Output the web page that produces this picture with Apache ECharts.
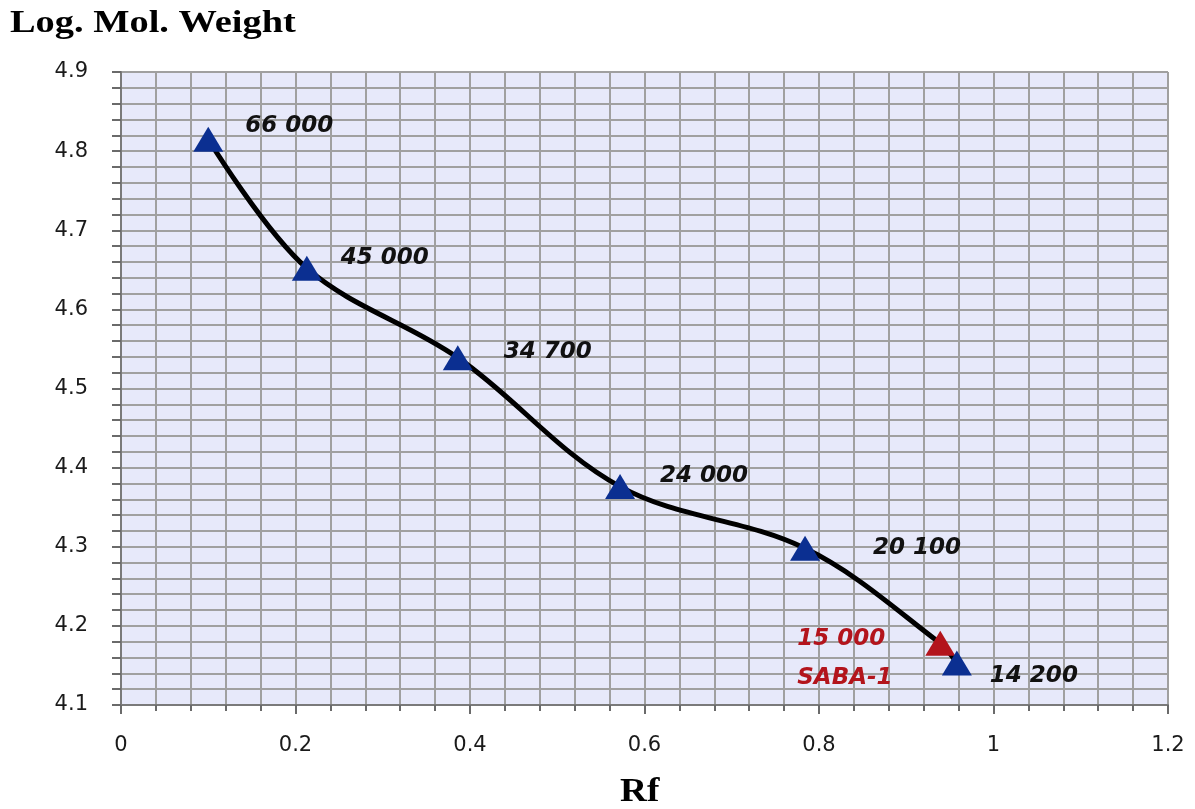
<!DOCTYPE html>
<html>
<head>
<meta charset="utf-8">
<title>Log. Mol. Weight vs Rf</title>
<script src="https://cdn.jsdelivr.net/npm/echarts@6/dist/echarts.min.js"></script>
<style>
  html, body { margin: 0; padding: 0; background: #ffffff; }
  #chart { width: 1195px; height: 809px; }
</style>
</head>
<body>
<div id="chart"></div>
<script>
// Marker proteins: relative mobility (Rf) against log of molecular weight
const rfValues    = [0.100, 0.213, 0.386, 0.572, 0.784, 0.939, 0.958];
const logMW       = [4.815, 4.652, 4.539, 4.376, 4.298, 4.178, 4.153];
const mwLabels    = ['66 000', '45 000', '34 700', '24 000', '20 100', '15 000\nSABA-1', '14 200'];
const isSample    = [false, false, false, false, false, true, false];

const xTicks = { min: 0, max: 1.2, step: 0.2 };
const yTicks = { min: 4.1, max: 4.9, step: 0.1 };

// label placement relative to each marker
const labelOffsets = [[17, -13], [14, -10], [26, -6], [20, -11], [48, 0], [-163, 15], [13, 13]];

const BLUE = '#0b2f91';
const RED = '#b3141c';
const GRID = '#a0a0a0';

const points = rfValues.map((rf, i) => ({
  value: [rf, logMW[i]],
  itemStyle: { color: isSample[i] ? RED : BLUE },
  label: {
    show: true,
    position: 'right',
    distance: 5,
    offset: labelOffsets[i],
    formatter: mwLabels[i],
    color: isSample[i] ? RED : '#111111',
    lineHeight: 39,
    align: 'left'
  }
}));

const chart = echarts.init(document.getElementById('chart'), null, { renderer: 'canvas' });

chart.setOption({
  backgroundColor: '#ffffff',
  animation: false,
  grid: { left: 121, right: 27, top: 72, bottom: 104, backgroundColor: '#e7e9fa', show: true, borderWidth: 0 },
  graphic: [
    { type: 'text', x: 10, y: 8, scaleX: 1.2,
      style: { text: 'Log. Mol. Weight', font: 'bold 32px "Liberation Serif"', fill: '#000' } },
    { type: 'text', x: 620, y: 775, scaleX: 1.1,
      style: { text: 'Rf', font: 'bold 34px "Liberation Serif"', fill: '#000' } }
  ],
  xAxis: {
    type: 'value',
    min: xTicks.min, max: xTicks.max, interval: xTicks.step,
    axisLine: { show: true, onZero: false, lineStyle: { color: '#7a7a7a', width: 2 } },
    axisTick: { show: true, length: 9, lineStyle: { color: '#6a6a6a', width: 2 } },
    minorTick: { show: true, splitNumber: 5, length: 6, lineStyle: { color: '#6a6a6a', width: 2 } },
    splitLine: { show: true, lineStyle: { color: GRID, width: 2 } },
    minorSplitLine: { show: true, lineStyle: { color: GRID, width: 2 } },
    axisLabel: { margin: 30, fontFamily: 'DejaVu Sans', fontSize: 21, color: '#1a1a1a',
      formatter: v => String(Math.round(v * 10) / 10) }
  },
  yAxis: {
    type: 'value',
    min: yTicks.min, max: yTicks.max, interval: yTicks.step,
    axisLine: { show: true, onZero: false, lineStyle: { color: '#7a7a7a', width: 2 } },
    axisTick: { show: true, length: 9, lineStyle: { color: '#6a6a6a', width: 2 } },
    minorTick: { show: true, splitNumber: 5, length: 9, lineStyle: { color: '#6a6a6a', width: 2 } },
    splitLine: { show: true, lineStyle: { color: GRID, width: 2 } },
    minorSplitLine: { show: true, lineStyle: { color: GRID, width: 2 } },
    axisLabel: { margin: 33, fontFamily: 'DejaVu Sans', fontSize: 21, color: '#1a1a1a',
      formatter: v => v.toFixed(1) }
  },
  series: [{
    type: 'line',
    data: points,
    smooth: 0.35,
    symbol: 'triangle',
    symbolSize: [30, 25],
    lineStyle: { color: '#000000', width: 5 },
    label: {
      fontFamily: 'DejaVu Sans', fontStyle: 'italic', fontWeight: 'bold', fontSize: 23
    },
    z: 3
  }]
});
</script>
</body>
</html>
